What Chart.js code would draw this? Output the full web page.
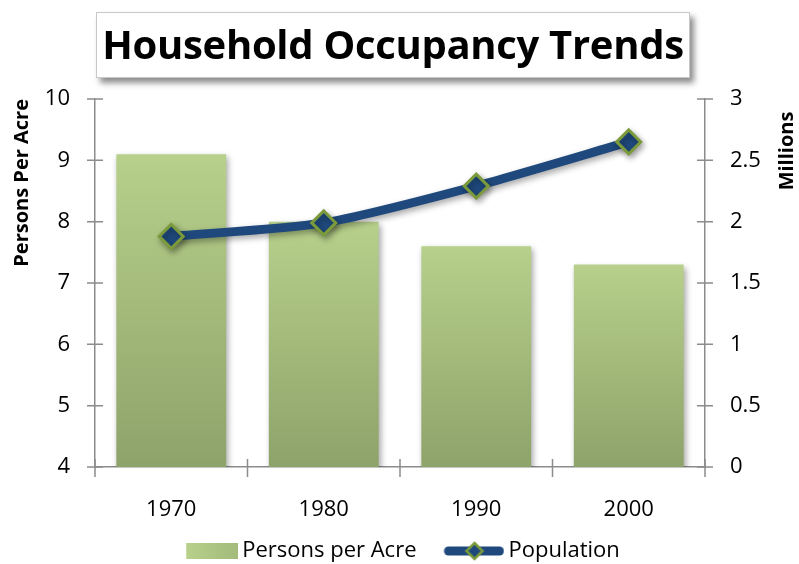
<!DOCTYPE html>
<html>
<head>
<meta charset="utf-8">
<script src="https://cdn.jsdelivr.net/npm/chart.js@4"></script>
<style>
  body { margin: 0; background: #fff; }
  #wrap { position: relative; width: 799px; height: 564px; }
  #title {
    position: absolute; left: 96px; top: 12px; width: 592px; height: 64px;
    border: 1px solid #c8c8c8; background: #fff;
    box-shadow: 4px 5px 6px rgba(0,0,0,0.45);
    font: bold 40px "Open Sans", sans-serif; color: #000;
    text-align: center; line-height: 62px; letter-spacing: -0.3px;
  }
</style>
</head>
<body>
<div id="wrap">
  <canvas id="occupancyChart" width="799" height="564"></canvas>
  <div id="title">Household Occupancy Trends</div>
</div>
<script>
// Data grafik
const years = ['1970', '1980', '1990', '2000'];
const personsPerAcre = [9.1, 8.0, 7.6, 7.3];
const populationMillions = [1.88, 1.99, 2.29, 2.65];
const leftTicks = [4, 5, 6, 7, 8, 9, 10];
const rightTicks = [0, 0.5, 1, 1.5, 2, 2.5, 3];

const FONT = '"Open Sans", sans-serif';
const AXIS_GRAY = '#8c8c8c';
const GREEN_TOP = '#b7d08b';
const GREEN_BOTTOM = '#8ea36a';
const BLUE = '#1f497d';
const DIAMOND_EDGE = '#7a9a3c';

// gradasi per batang
function barGradient(context) {
    const chart = context.chart;
    if (!chart.chartArea || context.dataIndex === undefined) return GREEN_TOP;
    const y = chart.scales.y;
    const top = y.getPixelForValue(personsPerAcre[context.dataIndex]);
    const bottom = y.getPixelForValue(y.min);
    const g = chart.ctx.createLinearGradient(0, top, 0, bottom);
    g.addColorStop(0, GREEN_TOP);
    g.addColorStop(1, GREEN_BOTTOM);
    return g;
}

// ikon legenda, 66px lebar, berpusat di kotak 52px
function legendBar() {
    const c = document.createElement('canvas');
    c.width = 66; c.height = 16;
    const x = c.getContext('2d');
    const g = x.createLinearGradient(14, 0, 66, 0);
    g.addColorStop(0, GREEN_TOP);
    g.addColorStop(1, '#a3bb7b');
    x.fillStyle = g;
    x.fillRect(14, 0, 52, 16);
    return c;
}
function legendLine() {
    const c = document.createElement('canvas');
    c.width = 66; c.height = 22;
    const x = c.getContext('2d');
    x.strokeStyle = BLUE; x.lineWidth = 9; x.lineCap = 'round';
    x.beginPath(); x.moveTo(10, 11); x.lineTo(61, 11); x.stroke();
    x.fillStyle = BLUE; x.strokeStyle = DIAMOND_EDGE; x.lineWidth = 2.5;
    x.beginPath(); x.moveTo(36, 3); x.lineTo(44, 11); x.lineTo(36, 19); x.lineTo(28, 11); x.closePath();
    x.fill(); x.stroke();
    return c;
}

// tinggi kotak legenda tetap, lalu bagian atasnya dinaikkan (legenda di-clip ke kotaknya)
const legendHeight = {
    id: 'legendHeight',
    beforeUpdate(chart) {
        const lg = chart.legend;
        if (!lg || lg._fitWrapped) return;
        const fit = lg.fit;
        lg.fit = function () { fit.call(this); this.height = 40; };
        lg._fitWrapped = true;
    },
    afterLayout(chart) {
        const lg = chart.legend;
        if (!lg) return;
        lg.top -= 13;
    }
};

// garis tick yang menyilang sumbu + judul kanan
const crossTicks = {
    id: 'crossTicks',
    afterDraw(chart) {
        const { ctx, chartArea, scales } = chart;
        ctx.save();
        ctx.strokeStyle = AXIS_GRAY;
        ctx.lineWidth = 1.5;
        ctx.beginPath();
        scales.y.ticks.forEach(t => {
            const py = scales.y.getPixelForValue(t.value);
            ctx.moveTo(chartArea.left - 8, py); ctx.lineTo(chartArea.left + 8, py);
        });
        scales.y1.ticks.forEach(t => {
            const py = scales.y1.getPixelForValue(t.value);
            ctx.moveTo(chartArea.right - 8, py); ctx.lineTo(chartArea.right + 8, py);
        });
        const step = (chartArea.right - chartArea.left) / years.length;
        for (let i = 0; i <= years.length; i++) {
            const px = chartArea.left + i * step;
            ctx.moveTo(px, chartArea.bottom - 8); ctx.lineTo(px, chartArea.bottom + 10);
        }
        ctx.stroke();

        ctx.fillStyle = '#000';
        ctx.font = 'bold 20px ' + FONT;
        ctx.textAlign = 'center';
        ctx.textBaseline = 'middle';
        ctx.translate(787, 151);
        ctx.rotate(-Math.PI / 2);
        ctx.fillText('Millions', 0, 0);
        ctx.restore();
    }
};

// bayangan lembut
const softShadow = {
    id: 'softShadow',
    beforeDatasetDraw(chart) {
        const ctx = chart.ctx;
        ctx.save();
        ctx.shadowColor = 'rgba(0,0,0,0.35)';
        ctx.shadowBlur = 6;
        ctx.shadowOffsetX = 2;
        ctx.shadowOffsetY = 3;
    },
    afterDatasetDraw(chart) {
        chart.ctx.restore();
    }
};

const tickFont = { family: FONT, size: 22 };

const config = {
    data: {
        labels: years,
        datasets: [{
            type: 'line',
            label: 'Population',
            data: populationMillions,
            yAxisID: 'y1',
            borderColor: BLUE,
            borderWidth: 9,
            tension: 0.25,
            pointStyle: 'rectRot',
            pointRadius: 12,
            pointHoverRadius: 12,
            pointBackgroundColor: BLUE,
            pointBorderColor: DIAMOND_EDGE,
            pointBorderWidth: 3,
            order: 0
        }, {
            type: 'bar',
            label: 'Persons per Acre',
            data: personsPerAcre,
            yAxisID: 'y',
            backgroundColor: barGradient,
            categoryPercentage: 1,
            barPercentage: 0.72,
            order: 1
        }]
    },
    options: {
        responsive: false,
        animation: false,
        layout: { padding: { top: 99, bottom: 0 } },
        plugins: {
            legend: {
                position: 'bottom',
                labels: {
                    usePointStyle: true,
                    pointStyleWidth: 52,
                    font: { family: FONT, size: 22 },
                    color: '#000',
                    padding: 29,
                    generateLabels: chart => [
                        { text: 'Persons per Acre', pointStyle: legendBar(), datasetIndex: 1, fontColor: '#000' },
                        { text: 'Population', pointStyle: legendLine(), datasetIndex: 0, fontColor: '#000' }
                    ]
                }
            },
            tooltip: { enabled: false }
        },
        scales: {
            x: {
                offset: true,
                grid: { display: false },
                border: { display: true, color: AXIS_GRAY, width: 1.5 },
                ticks: { font: tickFont, color: '#000', padding: 22 },
                afterFit: s => { s.height = 57; }
            },
            y: {
                position: 'left',
                min: 4, max: 10,
                afterBuildTicks: s => { s.ticks = leftTicks.map(v => ({ value: v })); },
                grid: { display: false },
                border: { display: true, color: AXIS_GRAY, width: 1.5 },
                ticks: { font: tickFont, color: '#000', padding: 17, callback: v => String(v) },
                title: {
                    display: true, text: 'Persons Per Acre', align: 'end',
                    font: { family: FONT, size: 20, weight: 'bold' }, color: '#000',
                    padding: { top: 10, bottom: 0 }
                },
                afterFit: s => { s.width = 95; }
            },
            y1: {
                position: 'right',
                min: 0, max: 3,
                afterBuildTicks: s => { s.ticks = rightTicks.map(v => ({ value: v })); },
                grid: { display: false },
                border: { display: true, color: AXIS_GRAY, width: 1.5 },
                ticks: { font: tickFont, color: '#000', padding: 17, callback: v => String(v) },
                afterFit: s => { s.width = 94; }
            }
        }
    },
    plugins: [legendHeight, softShadow, crossTicks]
};

const ctx = document.getElementById('occupancyChart').getContext('2d');
new Chart(ctx, config);
</script>
</body>
</html>
